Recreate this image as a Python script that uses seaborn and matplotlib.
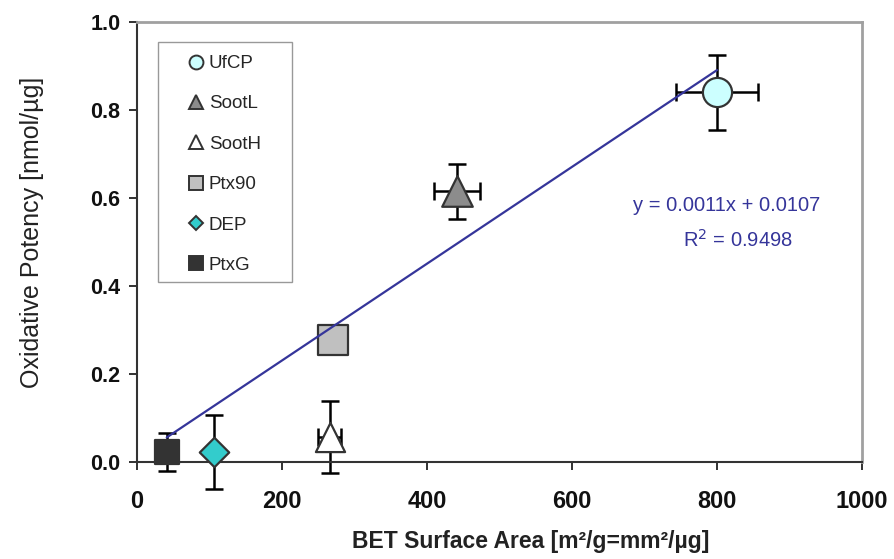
import numpy as np
import pandas as pd
import matplotlib
matplotlib.use("Agg")
import matplotlib.pyplot as plt
from matplotlib.lines import Line2D
from matplotlib.patches import Rectangle
import seaborn as sns

# Particle samples: BET surface area vs. oxidative potency (DTT assay)
samples = ["UfCP", "SootL", "SootH", "Ptx90", "DEP", "PtxG"]
bet_area = [800, 441, 266, 270, 106, 41]            # m2/g
potency = [0.840, 0.615, 0.057, 0.277, 0.023, 0.023]  # nmol/ug
bet_err = [57, 32, 16, 0, 0, 0]
potency_err = [0.085, 0.062, 0.082, 0.0, 0.084, 0.043]

# Linear fit reported on the chart
slope = 0.0011
intercept = 0.0107
r_squared = 0.9498

x_ticks = [0, 200, 400, 600, 800, 1000]
y_ticks = [0.0, 0.2, 0.4, 0.6, 0.8, 1.0]

df = pd.DataFrame({"sample": samples, "bet": bet_area, "potency": potency,
                   "bet_err": bet_err, "pot_err": potency_err})

# marker, face colour, size in points for each sample
styles = {
    "UfCP":  dict(marker="o", face="#ccffff", size=21),
    "SootL": dict(marker="^", face="#8c8c8c", size=22),
    "SootH": dict(marker="^", face="#ffffff", size=21),
    "Ptx90": dict(marker="s", face="#c0c0c0", size=22),
    "DEP":   dict(marker="D", face="#33cccc", size=15),
    "PtxG":  dict(marker="s", face="#333333", size=17),
}
legend_sizes = {"o": 10, "^": 10, "s": 9.5, "D": 7.5}

sns.set_theme(style="white")
plt.rcParams["font.family"] = ["Liberation Sans", "DejaVu Sans"]

fig = plt.figure(figsize=(8.95, 5.59), dpi=100)
ax = fig.add_axes([137 / 895, 1 - 462 / 559, 725 / 895, 440 / 559])

edge = "#333333"

# error bars sit behind the markers
for _, row in df.iterrows():
    ax.errorbar(row["bet"], row["potency"],
                xerr=row["bet_err"] if row["bet_err"] > 0 else None,
                yerr=row["pot_err"] if row["pot_err"] > 0 else None,
                fmt="none", ecolor="black", elinewidth=1.8, capsize=6.5,
                capthick=1.8, zorder=2, clip_on=False)

for name in samples:
    st = styles[name]
    sns.scatterplot(data=df[df["sample"] == name], x="bet", y="potency", ax=ax,
                    marker=st["marker"], s=st["size"] ** 2, color=st["face"],
                    edgecolor=edge, linewidth=1.6, zorder=3, legend=False,
                    clip_on=False)

# regression line over the measured range
fit_x = np.array([min(bet_area), max(bet_area)], dtype=float)
fit_y = slope * fit_x + intercept
line_color = "#35359a"
sns.lineplot(x=fit_x, y=fit_y, ax=ax, color=line_color, linewidth=1.6, zorder=4)

ax.text(813, 0.584, f"y = {slope:.4f}x + {intercept:.4f}", color=line_color,
        fontsize=14.5, ha="center", va="center")
ax.text(829, 0.505, f"R$^2$ = {r_squared:.4f}", color=line_color,
        fontsize=14.5, ha="center", va="center")

ax.set_xlim(0, 1000)
ax.set_ylim(0, 1.0)
ax.set_xticks(x_ticks)
ax.set_yticks(y_ticks)
ax.set_xticklabels([str(v) for v in x_ticks], fontsize=17, fontweight="bold",
                   color="#111111")
ax.set_yticklabels([f"{v:.1f}" for v in y_ticks], fontsize=15.5, fontweight="bold",
                   color="#111111")
ax.tick_params(axis="both", direction="out", length=6, width=1.3, color="#222222",
               left=True, bottom=True, pad=6)
ax.tick_params(axis="x", pad=14)

for side in ("left", "bottom"):
    ax.spines[side].set_color("#333333")
    ax.spines[side].set_linewidth(1.5)
for side in ("top", "right"):
    ax.spines[side].set_color("#a0a0a0")
    ax.spines[side].set_linewidth(2)

ax.set_xlabel("BET Surface Area [m²/g=mm²/µg]", fontsize=16.5, fontweight="bold",
              color="#222222")
ax.xaxis.set_label_coords(0.543, -0.155)
ax.set_ylabel("Oxidative Potency [nmol/µg]", fontsize=18, color="#222222")
ax.yaxis.set_label_coords(-0.128, 0.523)

# legend with its own rectangular frame
handles = [Line2D([], [], linestyle="none", marker=styles[n]["marker"],
                  markersize=legend_sizes[styles[n]["marker"]],
                  markerfacecolor=styles[n]["face"], markeredgecolor=edge,
                  markeredgewidth=1.4) for n in samples]
ax.legend(handles, samples, loc="upper left", bbox_to_anchor=(0.068, 0.925),
          frameon=False, fontsize=13.5, handlelength=1.0, handletextpad=0.2,
          labelspacing=1.24, borderpad=0, borderaxespad=0)
ax.add_patch(Rectangle((0.029, 0.409), 0.185, 0.545, transform=ax.transAxes,
                       fill=False, edgecolor="#999999", linewidth=1.0, zorder=1))

fig.savefig("out.png", dpi=100)
